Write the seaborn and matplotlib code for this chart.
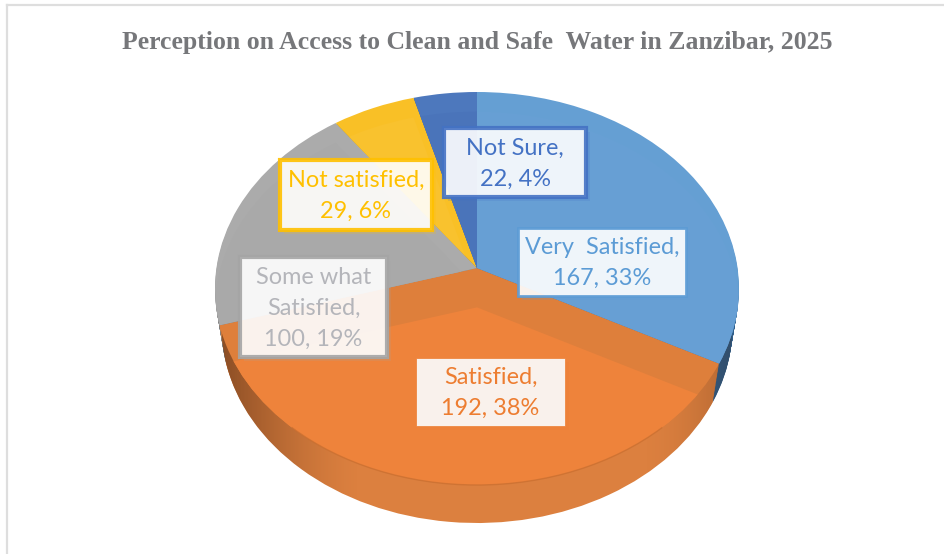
import numpy as np
import matplotlib
matplotlib.use('Agg')
import matplotlib.pyplot as plt
import matplotlib.patheffects as pe
from matplotlib.patches import Arc, Circle, Rectangle
from matplotlib.transforms import Transform, Affine2D
import seaborn as sns

sns.set_theme(style="white")

#%% data
title = "Perception on Access to Clean and Safe  Water in Zanzibar, 2025"
categories = ["Very  Satisfied", "Satisfied", "Some what\nSatisfied", "Not satisfied", "Not Sure"]
counts = [167, 192, 100, 29, 22]
percents = [33, 38, 19, 6, 4]

#%% styles
base = ["#5B9BD5", "#ED7D31", "#A5A5A5", "#FFC000", "#4472C4"]
top_colors = ["#659FD3", "#DE7F3B", "#ABABAB", "#F9C026", "#4D78BD"]
side_colors = ["#2F5F8C", "#DC803F", "#808080", "#B98F10", "#2F5597"]
text_colors = ["#5B9BD5", "#ED7D31", "#B4B5BA", "#FFC000", "#4472C4"]
# label boxes in pixels: left, top, right, bottom
label_box = [(518, 228, 686, 296), (416, 358, 565, 426), (240, 257, 387, 357),
             (280, 160, 432, 230), (444, 128, 586, 197)]

W, H = 944, 554
cx, cy, rx, ry = 477, 288.5, 262, 196.5
depth = 38 / ry


class Persp(Transform):
    # moves the pie apex up inside the ellipse, like the tilted 3D view
    input_dims = 2
    output_dims = 2
    def __init__(self, t):
        super().__init__()
        self.t = t
    def transform_non_affine(self, v):
        v = np.asarray(v, dtype=float)
        d = 1 + self.t * v[:, 1]
        return np.column_stack([v[:, 0] * np.sqrt(1 - self.t ** 2) / d, (v[:, 1] + self.t) / d])


fig = plt.figure(figsize=(W / 100, H / 100), dpi=100, facecolor="white")

# outer chart border, only top and left fall in the picture
frame = fig.add_axes([6.5 / W, -0.1, 1.1, 1.1 - 5 / H])
frame.set_xticks([])
frame.set_yticks([])
for s in ["right", "bottom"]:
    frame.spines[s].set_visible(False)
for s in ["top", "left"]:
    frame.spines[s].set_color("#DEDEDE")
    frame.spines[s].set_linewidth(1.6)

ax = fig.add_axes([0, 0, 1, 1])
ax.patch.set_alpha(0)
persp = Persp(0.104)


def draw_pie(colors, shift=0.0, z=1, xscale=1.0):
    wedges, _ = ax.pie(counts, colors=colors, startangle=90, counterclock=False,
                       wedgeprops=dict(linewidth=0))
    tr = persp + Affine2D().scale(xscale, 1).translate(0, shift) + ax.transData
    for w in wedges:
        w.set_transform(tr)
        w.set_zorder(z)
    return wedges


# side wall: stack of pies going down, narrowing a bit
layers = 30
for i in range(layers, 0, -1):
    draw_pie(side_colors, shift=-depth * i / layers, z=1 + (layers - i) * 0.001,
             xscale=1 - 0.025 * i / layers)

# darker ends of the wall
grad = np.zeros((2, 400, 4))
xs = np.linspace(0, 1, 400)
grad[:, :, 0] = 0.25
grad[:, :, 1] = 0.12
grad[:, :, 2] = 0.05
grad[:, :, 3] = 0.55 * np.clip(1 - xs / 0.28, 0, 1) ** 1.5 + 0.3 * np.clip((xs - 0.8) / 0.2, 0, 1) ** 2
im = ax.imshow(grad, extent=(-1, 1, -1.3, 0.5), aspect="auto", zorder=1.5)
im.set_clip_path(Circle((0, -depth), 1, transform=Affine2D().scale(0.975, 1) + ax.transData))

top = draw_pie(top_colors, z=2)

# lighter bevel face on the large orange slice
inner = draw_pie(["none", "#EE833B", "none", "none", "none"], shift=-0.2, z=2.1)
inner[1].set_clip_on(True)
inner[1].set_clip_path(top[1].get_path(), top[1].get_transform())

# faint inner faces of the other slices
for k, col, sh in [(0, "#679FD4", -0.1), (2, "#A9A9A9", -0.1), (3, "#F9C22E", -0.1), (4, "#4A74BA", -0.1)]:
    cols = ["none"] * 5
    cols[k] = col
    w2 = draw_pie(cols, shift=sh, z=2.1)
    w2[k].set_clip_on(True)
    w2[k].set_clip_path(top[k].get_path(), top[k].get_transform())

# thin dark line on the front rim
ax.add_patch(Arc((0, 0), 2, 2, theta1=225, theta2=315, color="#C76E30", linewidth=1, alpha=0.7, zorder=3))

ax.set_aspect("auto")
ax.set_xlim((0 - cx) / rx, (W - cx) / rx)
ax.set_ylim((cy - H) / ry, cy / ry)
ax.set_axis_off()

# data labels
faces = ["#FFFFFF", "#F9F1EC", "#FFFFFF", "#FFFFFF", "#FFFFFF"]
box_alpha = [0.9, 1.0, 0.9, 0.9, 0.9]
edges = [2, 0.5, 3, 3, 3]
for i in range(len(categories)):
    l, t, r, b = label_box[i]
    box = Rectangle(((l - cx) / rx, (cy - b) / ry), (r - l) / rx, (b - t) / ry, facecolor=faces[i],
                    alpha=box_alpha[i], edgecolor=base[i], linewidth=edges[i], zorder=5)
    box.set_path_effects([pe.SimplePatchShadow(offset=(3, -3), alpha=0.18, shadow_rgbFace=base[i]), pe.Normal()])
    ax.add_patch(box)
    ax.text(((l + r) / 2 - cx) / rx, (cy - (t + b) / 2 - 1) / ry,
            f"{categories[i]},\n{counts[i]}, {percents[i]}%",
            ha="center", va="center", ma="center", color=text_colors[i],
            family="Lato", fontsize=16.9, linespacing=1.58, zorder=6)

fig.text(477 / W, 1 - 42 / H, title, ha="center", va="center", family="Liberation Serif",
         fontweight="bold", fontsize=18.5, color="#76777A")

fig.savefig("out.png", dpi=100)
